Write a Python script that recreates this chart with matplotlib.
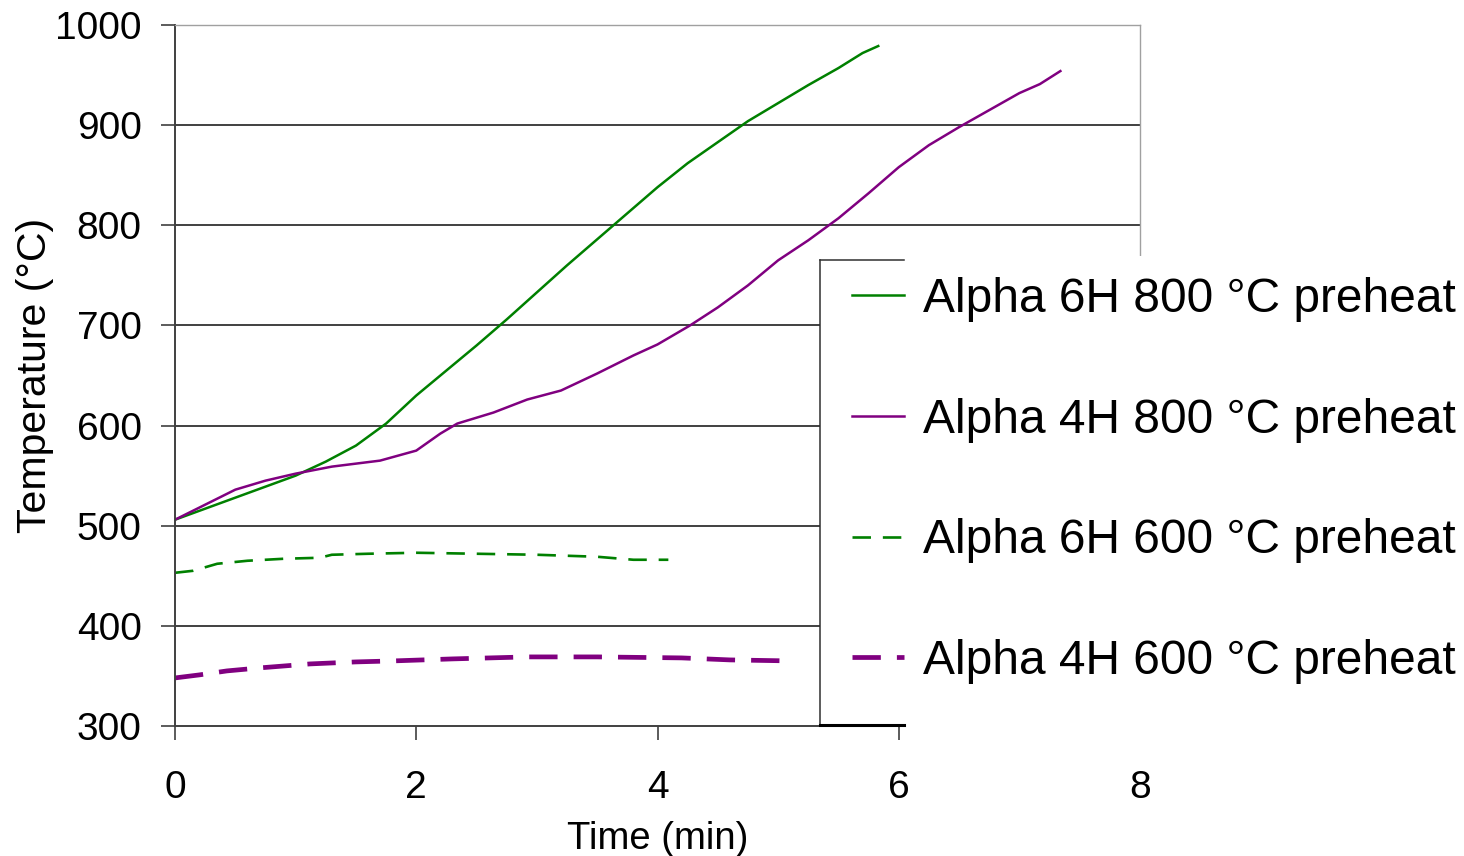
import matplotlib
matplotlib.use("Agg")
import matplotlib.pyplot as plt
from matplotlib.patches import Rectangle
from matplotlib.lines import Line2D

plt.rcParams['font.family'] = ['Liberation Sans', 'DejaVu Sans']

# data
t_6h_800 = [0, 0.25, 0.5, 0.75, 1.0, 1.25, 1.5, 1.75, 2.0, 2.25, 2.5, 2.75, 3.0,
            3.25, 3.5, 3.75, 4.0, 4.25, 4.5, 4.75, 5.0, 5.25, 5.5, 5.7, 5.83]
T_6h_800 = [506, 517, 528, 539, 550, 564, 580, 602, 630, 655, 680, 706, 733,
            760, 786, 812, 838, 862, 883, 904, 922, 940, 957, 972, 979]

t_4h_800 = [0, 0.25, 0.5, 0.75, 1.0, 1.3, 1.7, 2.0, 2.2, 2.34, 2.64, 2.92, 3.2,
            3.5, 3.8, 4.0, 4.27, 4.5, 4.75, 5.0, 5.25, 5.5, 5.75, 6.0, 6.25,
            6.5, 6.75, 7.0, 7.17, 7.34]
T_4h_800 = [506, 521, 536, 545, 552, 559, 565, 575, 592, 602, 613, 626, 635,
            652, 670, 681, 700, 718, 740, 765, 785, 807, 832, 858, 880,
            898, 915, 932, 941, 954]

t_6h_600 = [0, 0.15, 0.35, 0.6, 0.9, 1.2, 1.3, 1.6, 2.0, 2.5, 3.0, 3.5, 3.8, 4.09]
T_6h_600 = [453, 455, 462, 465, 467, 468, 471, 472, 473, 472, 471, 469, 466, 466]

t_4h_600 = [0, 0.2, 0.43, 0.7, 1.12, 1.5, 1.81, 2.3, 2.92, 3.5, 4.2, 4.6, 5.1]
T_4h_600 = [348, 351, 355, 358, 362, 364, 365, 367, 369, 369, 368, 366, 365]

labels = ["Alpha 6H 800 °C preheat", "Alpha 4H 800 °C preheat",
          "Alpha 6H 600 °C preheat", "Alpha 4H 600 °C preheat"]
x_ticks = [0, 2, 4, 6, 8]
y_ticks = [300, 400, 500, 600, 700, 800, 900, 1000]

GREEN = "#008000"
PURPLE = "#800080"
W, H = 1464, 856


def fx(px):
    return px / W


def fy(py):
    # pixel rows counted from the top
    return 1 - py / H


fig = plt.figure(figsize=(14.64, 8.56), dpi=100)
ax = fig.add_axes([fx(175), fy(726), fx(1140) - fx(175), fy(25) - fy(726)])

ax.plot(t_6h_800, T_6h_800, color=GREEN, lw=1.8, label=labels[0])
ax.plot(t_4h_800, T_4h_800, color=PURPLE, lw=1.8, label=labels[1])
ax.plot(t_6h_600, T_6h_600, color=GREEN, lw=1.9, ls=(0, (7, 4.5)), label=labels[2])
ax.plot(t_4h_600, T_4h_600, color=PURPLE, lw=3.4, ls=(0, (6, 3.4)), label=labels[3])

ax.set_xlim(0, 8)
ax.set_ylim(300, 1000)
ax.set_xticks(x_ticks)
ax.set_yticks(y_ticks)
ax.tick_params(axis='both', direction='out', length=10, width=1.2,
               color='#404040', labelsize=28)
ax.tick_params(axis='y', pad=14)
ax.tick_params(axis='x', pad=22)

ax.yaxis.grid(True, color='#202020', lw=1.2)
gl = ax.get_ygridlines()
gl[0].set_visible(False)
gl[-1].set_visible(False)

for s in ['left', 'bottom']:
    ax.spines[s].set_color('#404040')
    ax.spines[s].set_linewidth(1.4)
for s in ['top', 'right']:
    ax.spines[s].set_color('#a0a0a0')
    ax.spines[s].set_linewidth(1.0)

ax.set_xlabel("Time (min)", fontsize=27.5)
ax.xaxis.set_label_coords(0.5, (fy(821) - fy(726)) / (fy(25) - fy(726)))
ax.set_ylabel("Temperature (°C)", fontsize=29.5)
ax.yaxis.set_label_coords((54 - 175) / 965, 0.5)

# white legend area that hides the right part of the plot
fig.add_artist(Rectangle((fx(820), fy(724)), 1 - fx(820), fy(260) - fy(724),
                         transform=fig.transFigure, facecolor='white',
                         edgecolor='none', zorder=3))
fig.add_artist(Rectangle((fx(904), fy(745)), 1 - fx(904), fy(256) - fy(745),
                         transform=fig.transFigure, facecolor='white',
                         edgecolor='none', zorder=3))
fig.add_artist(Line2D([fx(820), fx(820)], [fy(724), fy(260)],
                      transform=fig.transFigure, color='#303030', lw=1.1, zorder=4))
fig.add_artist(Line2D([fx(820), fx(904)], [fy(260), fy(260)],
                      transform=fig.transFigure, color='#303030', lw=1.1, zorder=4))
fig.add_artist(Line2D([fx(820), fx(904)], [fy(725), fy(725)],
                      transform=fig.transFigure, color='black', lw=2.2, zorder=4))

handles, lbls = ax.get_legend_handles_labels()
fig.legend(handles, lbls, loc='upper left', bbox_to_anchor=(fx(852), fy(277)),
           frameon=False, fontsize=34.5, borderpad=0, borderaxespad=0,
           handlelength=1.08, handletextpad=0.4, labelspacing=1.58)

fig.savefig("out.png", dpi=100)
